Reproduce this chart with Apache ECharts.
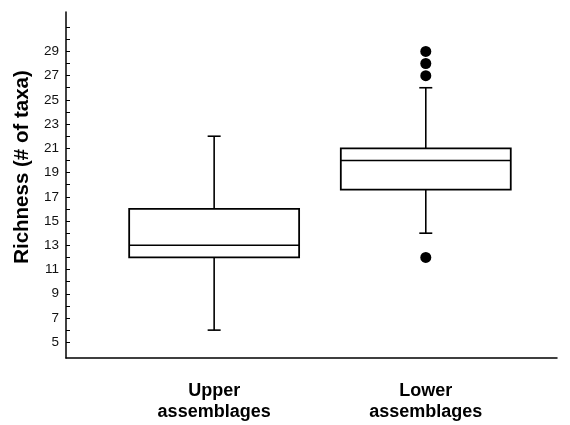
<!DOCTYPE html>
<html>
<head>
<meta charset="utf-8">
<script src="https://cdn.jsdelivr.net/npm/echarts@6/dist/echarts.min.js"></script>
<style>
  html, body { margin: 0; padding: 0; background: #fff; }
  #chart { width: 570px; height: 425px; }
</style>
</head>
<body>
<div id="chart"></div>
<script>
// ---- data ----
const categories = ['Upper\nassemblages', 'Lower\nassemblages'];
const positions = [1, 2];
const whiskerLow = [6, 14];
const q1 = [12, 17.6];
const median = [13, 20];
const q3 = [16, 21];
const whiskerHigh = [22, 26];
const outlierPos = [2, 2, 2, 2];
const outlierVal = [29, 28, 27, 12];
const yTickLabels = [5, 7, 9, 11, 13, 15, 17, 19, 21, 23, 25, 27, 29];
const yTicks = [5, 6, 7, 8, 9, 10, 11, 12, 13, 14, 15, 16, 17, 18, 19, 20, 21, 22, 23, 24, 25, 26, 27, 28, 29, 30, 31];

const boxData = positions.map((p, i) => [p, whiskerLow[i], q1[i], median[i], q3[i], whiskerHigh[i]]);
const outlierData = outlierPos.map((p, i) => [p, outlierVal[i]]);

const chart = echarts.init(document.getElementById('chart'), null, { renderer: 'canvas' });
const FONT = "'Liberation Sans', Arial, sans-serif";
const BOX_FRAC = 0.803;
const CAP_HALF = 6.5;

chart.setOption({
  backgroundColor: '#ffffff',
  animation: false,
  grid: { left: 66, right: 13, top: 12, bottom: 67 },
  xAxis: {
    type: 'value',
    min: 0.3,
    max: 2.62,
    axisLine: { show: true, lineStyle: { color: '#000', width: 1.5 } },
    axisTick: { show: false },
    splitLine: { show: false },
    axisLabel: {
      customValues: positions,
      formatter: v => categories[Math.round(v) - 1],
      fontFamily: FONT,
      fontSize: 18,
      fontWeight: 'bold',
      lineHeight: 21,
      color: '#000',
      margin: 23
    }
  },
  yAxis: {
    type: 'value',
    min: 3.7,
    max: 32.25,
    name: 'Richness (# of taxa)',
    nameLocation: 'middle',
    nameGap: 32,
    nameTextStyle: { fontFamily: FONT, fontSize: 20.5, fontWeight: 'bold', color: '#000', padding: [0, 0, 0, 36] },
    axisLine: { show: true, lineStyle: { color: '#000', width: 1.5 } },
    axisTick: { show: true, inside: true, length: 4, customValues: yTicks, lineStyle: { color: '#000', width: 1 } },
    splitLine: { show: false },
    axisLabel: {
      customValues: yTickLabels,
      fontFamily: FONT,
      fontSize: 13.5,
      color: '#111',
      margin: 7
    }
  },
  series: [
    {
      type: 'custom',
      data: boxData,
      encode: { x: 0, y: [1, 2, 3, 4, 5] },
      renderItem: function (params, api) {
        const x = api.value(0);
        const pLow = api.coord([x, api.value(1)]);
        const pQ1 = api.coord([x, api.value(2)]);
        const pMed = api.coord([x, api.value(3)]);
        const pQ3 = api.coord([x, api.value(4)]);
        const pHigh = api.coord([x, api.value(5)]);
        const halfW = api.size([BOX_FRAC, 0])[0] / 2;
        const cx = pMed[0];
        const lineStyle = { stroke: '#000', lineWidth: 1.6, fill: null };
        return {
          type: 'group',
          children: [
            { type: 'rect', shape: { x: cx - halfW, y: pQ3[1], width: 2 * halfW, height: pQ1[1] - pQ3[1] },
              style: { stroke: '#000', lineWidth: 1.8, fill: '#fff' } },
            { type: 'line', shape: { x1: cx - halfW, y1: pMed[1], x2: cx + halfW, y2: pMed[1] }, style: lineStyle },
            { type: 'line', shape: { x1: cx, y1: pQ3[1], x2: cx, y2: pHigh[1] }, style: lineStyle },
            { type: 'line', shape: { x1: cx, y1: pQ1[1], x2: cx, y2: pLow[1] }, style: lineStyle },
            { type: 'line', shape: { x1: cx - CAP_HALF, y1: pHigh[1], x2: cx + CAP_HALF, y2: pHigh[1] }, style: lineStyle },
            { type: 'line', shape: { x1: cx - CAP_HALF, y1: pLow[1], x2: cx + CAP_HALF, y2: pLow[1] }, style: lineStyle }
          ]
        };
      }
    },
    {
      type: 'scatter',
      data: outlierData,
      symbol: 'circle',
      symbolSize: 11,
      itemStyle: { color: '#000', opacity: 1 }
    }
  ]
});
</script>
</body>
</html>
